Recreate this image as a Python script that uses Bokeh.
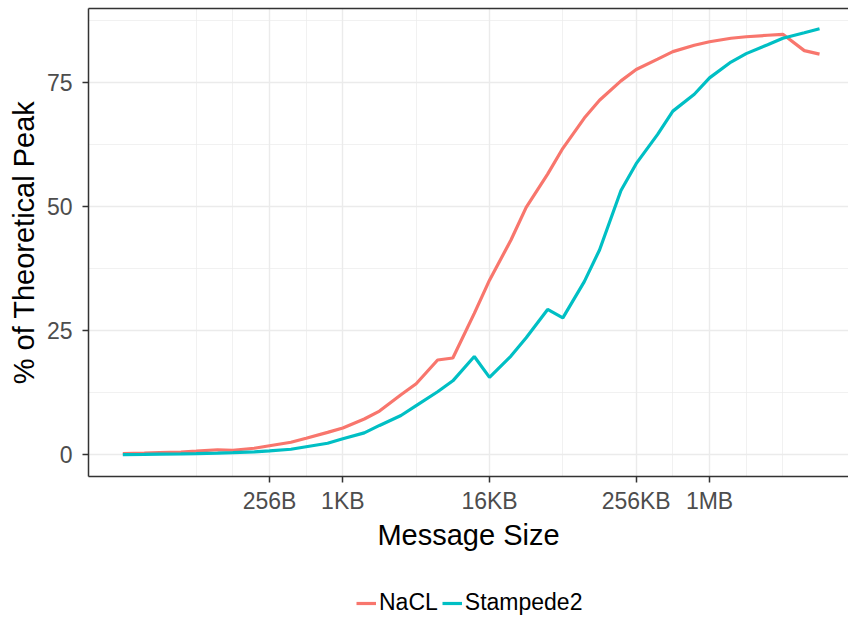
from bokeh.plotting import figure
from bokeh.layouts import column
from bokeh.models import Range1d, FixedTicker, LogAxis, Legend, LegendItem
from bokeh.embed import file_html
from bokeh.resources import INLINE

# ---- data ----
sizes = [16, 24, 32, 48, 64, 96, 128, 192, 256, 384, 512, 768, 1024, 1536, 2048,
         3072, 4096, 6144, 8192, 12288, 16384, 24576, 32768, 49152, 65536, 98304,
         131072, 196608, 262144, 393216, 524288, 786432, 1048576, 1572864,
         2097152, 3145728, 4194304, 6291456, 8388608]
nacl = [0.2, 0.3, 0.4, 0.5, 0.7, 1.0, 0.9, 1.3, 1.8, 2.5, 3.3, 4.5, 5.4, 7.2, 8.8,
        12.1, 14.3, 19.1, 19.5, 28.5, 35.2, 43.3, 49.9, 56.6, 61.8, 67.9, 71.5,
        75.4, 77.7, 79.8, 81.3, 82.6, 83.3, 84.0, 84.3, 84.6, 84.8, 81.5, 80.8]
stampede2 = [0.0, 0.05, 0.1, 0.15, 0.2, 0.3, 0.4, 0.55, 0.75, 1.1, 1.6, 2.3, 3.2,
             4.4, 5.9, 7.9, 9.9, 12.7, 14.9, 19.8, 15.6, 19.9, 23.6, 29.3, 27.6,
             34.9, 41.3, 53.3, 58.7, 64.6, 69.3, 72.7, 76.0, 79.2, 80.9, 82.7,
             84.0, 85.1, 85.9]
series_names = ["NaCL", "Stampede2"]
series_colors = ["#F8766D", "#00BFC4"]

x_tick_values = [256, 1024, 16384, 262144, 1048576]
x_tick_labels = ["256B", "1KB", "16KB", "256KB", "1MB"]
x_minor_values = [64, 128, 512, 4096, 65536, 524288, 2097152, 4194304]
y_tick_values = [0, 25, 50, 75]
y_minor_values = [12.5, 37.5, 62.5, 87.5]

FONT = "Liberation Sans"

p = figure(frame_width=760, frame_height=468,
           x_axis_type="log",
           x_range=Range1d(2 ** 3.064, 2 ** 23.79),
           y_range=Range1d(-4.4, 90.0),
           output_backend="svg", toolbar_location=None,
           min_border_left=88, min_border_right=0, min_border_top=8,
           min_border_bottom=108, background_fill_color="white",
           border_fill_color="white")
p.outline_line_color = None

series = [nacl, stampede2]
for ys, c in zip(series, series_colors):
    p.line(sizes, ys, line_color=c, line_width=3.2)

# grids
for g in (p.xgrid, p.ygrid):
    g.grid_line_color = "#EBEBEB"
    g.grid_line_width = 1.4
    g.minor_grid_line_color = "#EBEBEB"
    g.minor_grid_line_width = 0.7

# axes
xa = p.xaxis[0]
xa.ticker = FixedTicker(ticks=x_tick_values, minor_ticks=x_minor_values)
xa.major_label_overrides = {v: l for v, l in zip(x_tick_values, x_tick_labels)}
xa.axis_label = "Message Size"

ya = p.yaxis[0]
ya.ticker = FixedTicker(ticks=y_tick_values, minor_ticks=y_minor_values)
ya.axis_label = "% of Theoretical Peak"

for a in (xa, ya):
    a.axis_line_color = "#333333"
    a.axis_line_width = 1.5
    a.major_tick_line_color = "#333333"
    a.major_tick_line_width = 1.5
    a.major_tick_in = 0
    a.major_tick_out = 6
    a.minor_tick_line_color = None
    a.major_label_text_font = FONT
    a.major_label_text_font_size = "23px"
    a.major_label_text_color = "#4D4D4D"
    a.axis_label_text_font = FONT
    a.axis_label_text_font_size = "29px"
    a.axis_label_text_font_style = "normal"
    a.axis_label_text_color = "black"

xa.major_label_standoff = 5
xa.axis_label_standoff = 2
ya.major_label_standoff = 10
ya.axis_label_standoff = 4

top = LogAxis(ticker=FixedTicker(ticks=[]), major_tick_out=0, major_tick_in=0,
              minor_tick_out=0, minor_tick_in=0, major_label_standoff=0,
              major_label_text_font_size="0px", axis_line_color="#333333",
              axis_line_width=1.5)
p.add_layout(top, "above")

# ---- legend strip (separate figure below the chart) ----
lf = figure(width=848, height=37, output_backend="svg", toolbar_location=None,
            x_axis_type="log",
            x_range=Range1d(2 ** 3.064, 2 ** 23.79), y_range=Range1d(0, 1),
            x_axis_location=None, y_axis_location=None,
            min_border=0, background_fill_color="white",
            border_fill_color="white")
lf.outline_line_color = None
lf.xgrid.visible = False
lf.ygrid.visible = False
key_renderers = [lf.line(sizes, ys, line_color=c, line_width=3.2, visible=False)
                 for ys, c in zip(series, series_colors)]

legend = Legend(items=[LegendItem(label=n, renderers=[r])
                       for n, r in zip(series_names, key_renderers)],
                orientation="horizontal", location=(268, 5),
                label_text_font=FONT, label_text_font_size="23px",
                label_text_color="black", glyph_width=20, glyph_height=20,
                label_standoff=3, spacing=4, padding=0, margin=0,
                inactive_fill_alpha=0, click_policy="none",
                border_line_color=None, background_fill_alpha=0)
lf.add_layout(legend, "center")

layout = column(p, lf, spacing=0)
open("out.html", "w").write(file_html(layout, INLINE))
